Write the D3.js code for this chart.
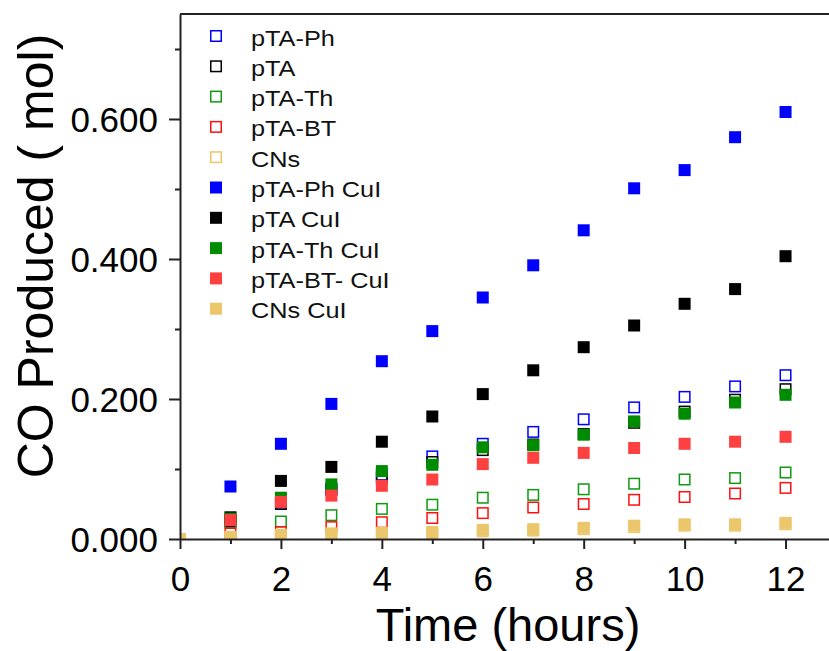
<!DOCTYPE html>
<html>
<head>
<meta charset="utf-8">
<script src="https://cdn.jsdelivr.net/npm/d3@7"></script>
<style>
  html, body { margin: 0; padding: 0; background: #fff; }
  svg { display: block; font-family: "Liberation Sans", Arial, sans-serif; }
</style>
</head>
<body>
<svg id="chart" width="829" height="651"></svg>
<script>
// ---- data ----
const hours = [0, 1, 2, 3, 4, 5, 6, 7, 8, 9, 10, 11, 12];
const seriesNames = ["pTA-Ph", "pTA", "pTA-Th", "pTA-BT", "CNs",
                     "pTA-Ph CuI", "pTA CuI", "pTA-Th CuI", "pTA-BT- CuI", "CNs CuI"];
const pTA_Ph      = [0, 0.027, 0.052, 0.072, 0.092, 0.118, 0.136, 0.153, 0.171, 0.188, 0.203, 0.218, 0.234];
const pTA         = [0, 0.025, 0.050, 0.070, 0.087, 0.110, 0.127, 0.135, 0.150, 0.166, 0.182, 0.199, 0.214];
const pTA_Th      = [0, 0.023, 0.025, 0.034, 0.043, 0.049, 0.059, 0.063, 0.071, 0.079, 0.085, 0.087, 0.095];
const pTA_BT      = [0, 0.008, 0.010, 0.017, 0.024, 0.030, 0.037, 0.045, 0.050, 0.056, 0.060, 0.065, 0.073];
const CNs         = [0, 0.002, 0.004, 0.006, 0.007, 0.008, 0.011, 0.012, 0.014, 0.017, 0.019, 0.019, 0.021];
const pTA_Ph_CuI  = [0, 0.075, 0.136, 0.193, 0.254, 0.297, 0.345, 0.391, 0.441, 0.501, 0.527, 0.574, 0.610];
const pTA_CuI     = [0, 0.031, 0.083, 0.103, 0.139, 0.175, 0.207, 0.241, 0.274, 0.305, 0.336, 0.357, 0.404];
const pTA_Th_CuI  = [0, 0.029, 0.059, 0.078, 0.097, 0.106, 0.131, 0.134, 0.149, 0.168, 0.179, 0.195, 0.206];
const pTA_BT_CuI  = [0, 0.027, 0.053, 0.062, 0.076, 0.085, 0.107, 0.116, 0.123, 0.130, 0.136, 0.139, 0.146];
const CNs_CuI     = [0, 0.003, 0.006, 0.008, 0.009, 0.010, 0.013, 0.014, 0.016, 0.019, 0.021, 0.021, 0.023];
const xTicks = [0, 2, 4, 6, 8, 10, 12];
const yTicks = [0, 0.2, 0.4, 0.6];
const yTickLabels = ["0.000", "0.200", "0.400", "0.600"];
const xTitle = "Time (hours)";
const yTitle = "CO Produced ( mol)";

// ---- styles ----
const seriesValues = [pTA_Ph, pTA, pTA_Th, pTA_BT, CNs, pTA_Ph_CuI, pTA_CuI, pTA_Th_CuI, pTA_BT_CuI, CNs_CuI];
const colors = ["#0000ff", "#000000", "#119911", "#ff1010", "#ecc66a",
                "#0000ff", "#000000", "#008c00", "#ff4040", "#ecc66a"];
const filled = [false, false, false, false, false, true, true, true, true, true];

const svg = d3.select("#chart");
const M = {left: 180, top: 14, right: 836, bottom: 539};
const x = d3.scaleLinear().domain([0, 13]).range([M.left, M.right]);
const y = d3.scaleLinear().domain([0, 0.75]).range([M.bottom, M.top]);

svg.append("defs").append("clipPath").attr("id", "plotclip")
  .append("rect").attr("x", M.left).attr("y", M.top)
  .attr("width", M.right - M.left).attr("height", M.bottom - M.top);

// points
const S = 12;
const gPts = svg.append("g").attr("clip-path", "url(#plotclip)");
seriesValues.forEach((vals, i) => {
  const pts = hours.map((h, j) => ({h, v: vals[j]}));
  const sel = gPts.append("g").selectAll("rect").data(pts).join("rect")
    .attr("x", d => x(d.h) - S / 2)
    .attr("y", d => y(d.v) - S / 2)
    .attr("width", S).attr("height", S);
  if (filled[i]) {
    sel.attr("fill", colors[i]);
  } else {
    sel.attr("fill", "none").attr("stroke", colors[i]).attr("stroke-width", 1.5)
      .attr("x", d => x(d.h) - S / 2 + 0.75).attr("y", d => y(d.v) - S / 2 + 0.75)
      .attr("width", S - 1.5).attr("height", S - 1.5);
  }
});

// axes
const xAxis = d3.axisBottom(x).tickValues(d3.range(0, 14, 1)).tickSizeOuter(0)
  .tickFormat(d => xTicks.includes(d) ? String(d) : "");
const gx = svg.append("g").attr("transform", `translate(0,${M.bottom})`).call(xAxis);
gx.select(".domain").attr("stroke", "#222").attr("stroke-width", 2);
gx.selectAll(".tick line").attr("stroke", "#222").attr("stroke-width", 2)
  .attr("y2", d => xTicks.includes(d) ? 10 : 5);
gx.selectAll(".tick text").attr("font-size", 35).attr("fill", "#000")
  .attr("font-family", "Liberation Sans, Arial, sans-serif")
  .attr("y", 52).attr("dy", 0);

const yAxis = d3.axisLeft(y).tickValues(d3.range(0, 0.75, 0.1).map(v => +v.toFixed(2))).tickSizeOuter(0)
  .tickFormat(d => { const k = yTicks.findIndex(t => Math.abs(t - d) < 1e-6); return k >= 0 ? yTickLabels[k] : ""; });
const gy = svg.append("g").attr("transform", `translate(${M.left},0)`).call(yAxis);
gy.select(".domain").attr("stroke", "#222").attr("stroke-width", 2);
gy.selectAll(".tick line").attr("stroke", "#222").attr("stroke-width", 2)
  .attr("x2", d => yTicks.some(t => Math.abs(t - d) < 1e-6) ? -11 : -5);
gy.selectAll(".tick text").attr("font-size", 35).attr("fill", "#000")
  .attr("font-family", "Liberation Sans, Arial, sans-serif")
  .attr("x", -22).attr("dy", "0.36em");

// top frame
svg.append("line").attr("x1", M.left).attr("x2", 829).attr("y1", M.top).attr("y2", M.top)
  .attr("stroke", "#222").attr("stroke-width", 2);

// titles
svg.append("text").attr("x", 508).attr("y", 641).attr("text-anchor", "middle")
  .attr("font-size", 47).attr("fill", "#000").text(xTitle);
svg.append("text").attr("transform", "translate(53,256) rotate(-90)").attr("text-anchor", "middle")
  .attr("font-size", 50).attr("fill", "#000").text(yTitle);

// legend
const gl = svg.append("g");
seriesNames.forEach((name, i) => {
  const cy = 36 + i * 30.3;
  if (filled[i]) {
    gl.append("rect").attr("x", 216 - 6).attr("y", cy - 6).attr("width", 12).attr("height", 12)
      .attr("fill", colors[i]);
  } else {
    gl.append("rect").attr("x", 216 - 5.25).attr("y", cy - 5.25).attr("width", 10.5).attr("height", 10.5)
      .attr("fill", "none").attr("stroke", colors[i]).attr("stroke-width", 1.5);
  }
  gl.append("text").attr("transform", `translate(251,${cy + 9.5}) scale(1.15,1)`)
    .attr("font-size", 22).attr("fill", "#111").text(name);
});
</script>
</body>
</html>
